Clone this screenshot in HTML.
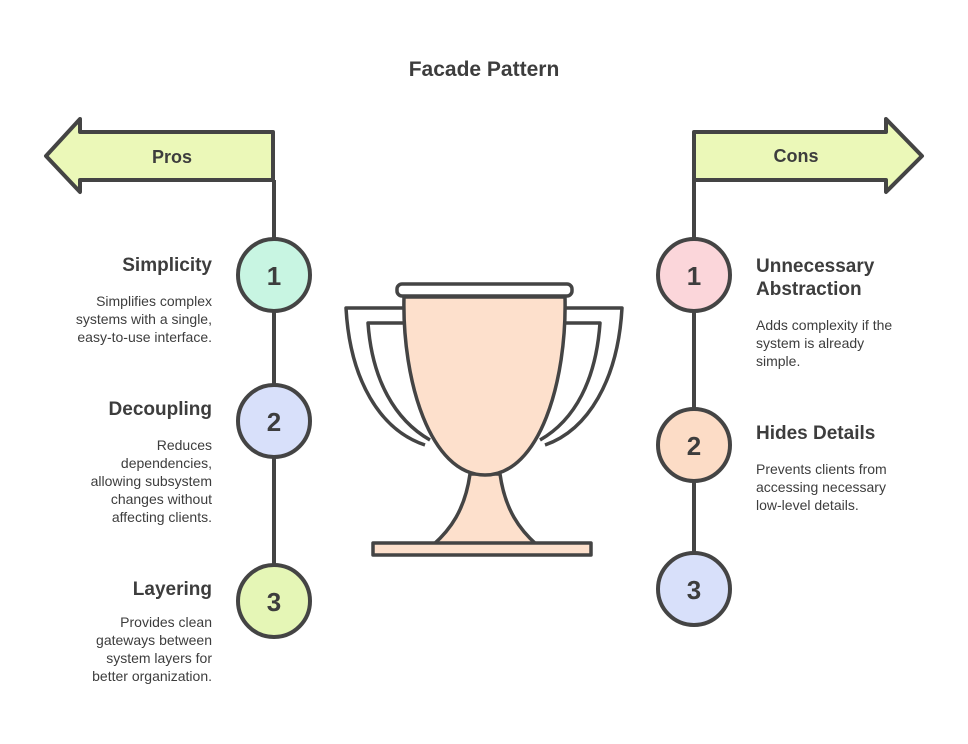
<!DOCTYPE html>
<html><head><style>
body{margin:0;width:968px;height:744px;background:#fff;overflow:hidden;font-family:"Liberation Sans",sans-serif;color:#3d3d3d}
.t{position:absolute;font-weight:bold;font-size:19px}
.d{position:absolute;font-size:14px;line-height:18px}
.r{text-align:right}
</style></head><body>
<svg width="968" height="744" style="position:absolute;left:0;top:0">
<g stroke="#444" stroke-width="4" fill="none" stroke-linejoin="round">
<path d="M273 132 H80 V119 L46 156 L80 192 V180 H273 Z" fill="#ebf8b8"/>
<path d="M694 132 H886 V119 L922 156 L886 192 V180 H694 Z" fill="#ebf8b8"/>
<line x1="274" y1="180" x2="274" y2="600"/>
<line x1="694" y1="180" x2="694" y2="589"/>
<circle cx="274" cy="275" r="36" fill="#c8f5e2"/>
<circle cx="274" cy="421" r="36" fill="#d8e0fa"/>
<circle cx="274" cy="601" r="36" fill="#e5f6b6"/>
<circle cx="694" cy="275" r="36" fill="#fbd6da"/>
<circle cx="694" cy="445" r="36" fill="#fcdcc6"/>
<circle cx="694" cy="589" r="36" fill="#d8e0fa"/>
<g stroke-width="3.5">
<path d="M405 308 H346 C350 380 380 430 425 445" fill="none"/>
<path d="M405 323 H368 C372 380 395 420 430 440" fill="none"/>
<path d="M565 308 H622 C618 380 588 430 545 445" fill="none"/>
<path d="M565 323 H600 C596 380 575 420 540 440" fill="none"/>
<path d="M470 474 C465 510 450 530 433 545 H537 C520 530 505 510 500 474 Z" fill="#fde0cc"/>
<path d="M404 297 C402 380 430 475 485 475 C540 475 567 380 565 297 Z" fill="#fde0cc"/>
<rect x="397" y="284" width="175" height="12" rx="5" fill="#fff"/>
<rect x="373" y="543" width="218" height="12" fill="#fde0cc"/>
</g>
</g>
<g font-family="Liberation Sans" font-weight="bold" font-size="26" fill="#3d3d3d" text-anchor="middle">
<text x="274" y="285">1</text><text x="274" y="431">2</text><text x="274" y="611">3</text>
<text x="694" y="285">1</text><text x="694" y="455">2</text><text x="694" y="599">3</text>
</g>
<g font-family="Liberation Sans" font-weight="bold" font-size="18" fill="#3d3d3d" text-anchor="middle">
<text x="172" y="163">Pros</text><text x="796" y="162">Cons</text>
<text x="484" y="76" font-size="21">Facade Pattern</text>
</g>
</svg>
<div class="t r" style="right:756px;top:255px">Simplicity</div>
<div class="d r" style="right:756px;top:292px">Simplifies complex<br>systems with a single,<br>easy-to-use interface.</div>
<div class="t r" style="right:756px;top:399px">Decoupling</div>
<div class="d r" style="right:756px;top:436px">Reduces<br>dependencies,<br>allowing subsystem<br>changes without<br>affecting clients.</div>
<div class="t r" style="right:756px;top:579px">Layering</div>
<div class="d r" style="right:756px;top:613px">Provides clean<br>gateways between<br>system layers for<br>better organization.</div>
<div class="t" style="left:756px;top:255px;line-height:23px">Unnecessary<br>Abstraction</div>
<div class="d" style="left:756px;top:316px">Adds complexity if the<br>system is already<br>simple.</div>
<div class="t" style="left:756px;top:423px">Hides Details</div>
<div class="d" style="left:756px;top:460px">Prevents clients from<br>accessing necessary<br>low-level details.</div>
</body></html>
